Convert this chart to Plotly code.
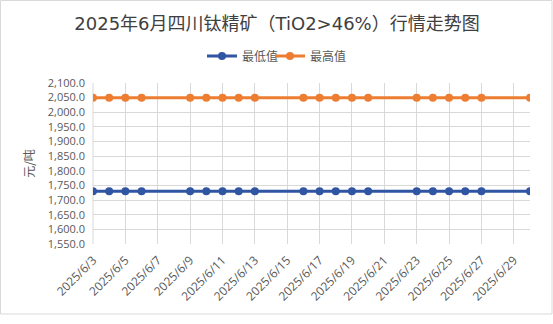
import plotly.graph_objects as go

dates = ["2025-06-03", "2025-06-04", "2025-06-05", "2025-06-06",
         "2025-06-09", "2025-06-10", "2025-06-11", "2025-06-12", "2025-06-13",
         "2025-06-16", "2025-06-17", "2025-06-18", "2025-06-19", "2025-06-20",
         "2025-06-23", "2025-06-24", "2025-06-25", "2025-06-26", "2025-06-27",
         "2025-06-30"]
low_values = [1730] * 20
high_values = [2050] * 20

BLUE = "#2F55A3"
ORANGE = "#ED7D31"
CJK = "Noto Sans CJK SC"
LAT = "Open Sans, " + CJK

fig = go.Figure()
fig.add_trace(go.Scatter(x=dates, y=low_values, name="最低值", mode="lines+markers",
                         line=dict(color=BLUE, width=3), marker=dict(size=8, color=BLUE)))
fig.add_trace(go.Scatter(x=dates, y=high_values, name="最高值", mode="lines+markers",
                         line=dict(color=ORANGE, width=3), marker=dict(size=8, color=ORANGE)))
# invisible spacer entry so the last legend label is not clipped
fig.add_trace(go.Scatter(x=[None], y=[None], name=" ", mode="lines",
                         line=dict(color="rgba(0,0,0,0)"), hoverinfo="skip"))

L, R, T, B = 93, 23, 83, 80
W, H = 553, 324
pw, ph = W - L - R, H - T - B

fig.update_layout(
    width=W, height=H,
    margin=dict(l=L, r=R, t=T, b=B, autoexpand=False),
    paper_bgcolor="white", plot_bgcolor="white",
    font=dict(family=LAT, color="#595959", size=12),
    title=dict(text="2025年6月四川钛精矿（TiO2>46%）行情走势图", x=277 / W, xref="container",
               xanchor="center", y=1 - 24 / H, yref="container", yanchor="middle",
               font=dict(size=18, color="#404040", family="DejaVu Sans, " + CJK)),
    legend=dict(orientation="h", x=202 / W, xref="container", xanchor="left",
                y=1 - 56 / H, yref="container", yanchor="middle",
                font=dict(size=12, color="#595959", family=CJK), itemwidth=30,
                entrywidth=23, entrywidthmode="pixels",
                bgcolor="rgba(0,0,0,0)"),
    xaxis=dict(type="date", range=["2025-06-03", "2025-06-30"], automargin=False,
               tick0="2025-06-03", dtick=2 * 86400000, tickformat="%Y/%-m/%-d",
               tickangle=-45, showgrid=True, gridcolor="#D9D9D9", gridwidth=1,
               showline=False, zeroline=False, ticks="", ticklabelstandoff=6,
               tickfont=dict(size=12, color="#595959", family=LAT)),
    yaxis=dict(range=[1550, 2100], dtick=50, tickformat=",.1f", automargin=False,
               showgrid=True, gridcolor="#D9D9D9", gridwidth=1,
               zeroline=False, showline=False, ticks="", ticklabelstandoff=7,
               title=dict(text="元/吨", standoff=10, font=dict(size=12, color="#595959", family=CJK)),
               tickfont=dict(size=11, color="#595959", family=LAT)),
    shapes=[dict(type="rect", xref="paper", yref="paper",
                 x0=(0.5 - L) / pw, x1=(552 - L) / pw,
                 y0=(H - B - 314) / ph, y1=(H - B - 0.5) / ph,
                 line=dict(color="#D9D9D9", width=1), fillcolor="rgba(0,0,0,0)",
                 layer="below"),
            dict(type="line", xref="paper", yref="paper", x0=0, x1=0, y0=0, y1=1,
                 line=dict(color="#D9D9D9", width=1), layer="below")],
)

fig.write_html("out.html")
